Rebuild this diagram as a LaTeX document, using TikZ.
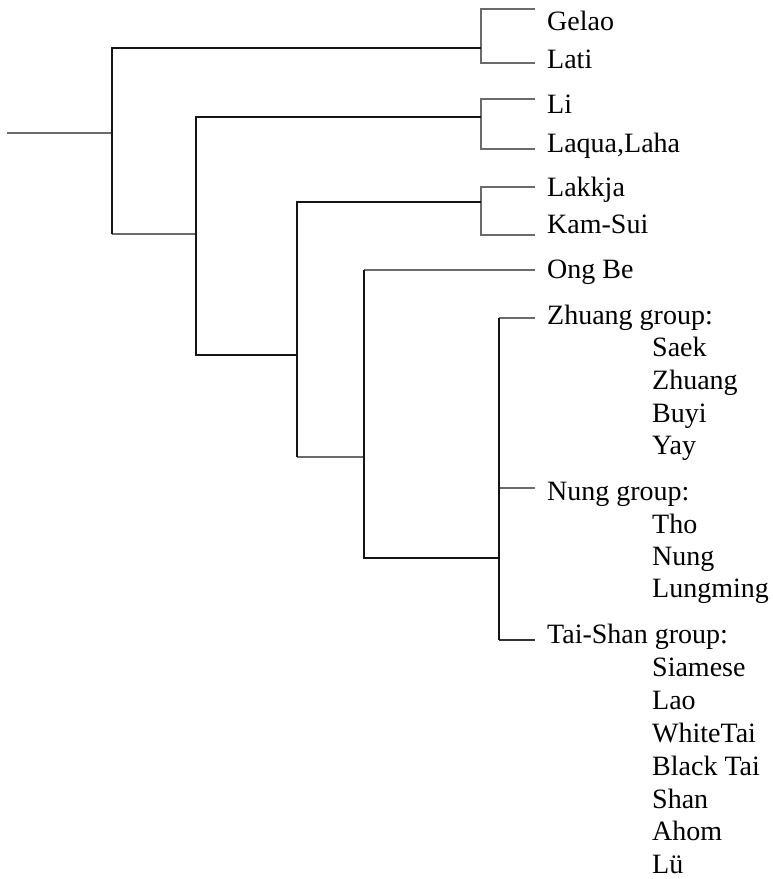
\documentclass[tikz,border=0pt]{standalone}
\usepackage{fontspec}
\setmainfont{Liberation Serif}
\begin{document}
\begin{tikzpicture}[x=1pt,y=-1pt,
  trunk/.style={draw=black!92, line width=2pt},
  twig/.style={draw=black!58, line width=1.6pt},
  lbl/.style={anchor=base west, inner sep=0pt, font=\fontsize{28}{30}\selectfont}]
\useasboundingbox (0,0) rectangle (772,879);

% tree joints
\coordinate (root) at (7,133);
\coordinate (a) at (112,133);
\coordinate (a-top) at (112,48);
\coordinate (a-bot) at (112,234);
\coordinate (b1) at (481,48);
\coordinate (c-top) at (196,117);
\coordinate (c-bot) at (196,355);
\coordinate (b2) at (481,117);
\coordinate (d-top) at (297,202);
\coordinate (d-bot) at (297,457);
\coordinate (b3) at (481,202);
\coordinate (e-top) at (364,270);
\coordinate (e-bot) at (364,558);
\coordinate (f-top) at (499,318);
\coordinate (f-mid) at (499,488);
\coordinate (f-bot) at (499,640);

% leaf tips
\coordinate (t-gelao) at (535,9);
\coordinate (t-lati) at (535,63);
\coordinate (t-li) at (535,99);
\coordinate (t-laqua) at (535,149);
\coordinate (t-lakkja) at (535,187);
\coordinate (t-kamsui) at (535,235);
\coordinate (t-ongbe) at (535,270);
\coordinate (t-zhuang) at (535,318);
\coordinate (t-nung) at (535,488);
\coordinate (t-taishan) at (535,640);

% grey branches
\draw[twig] (root) -- (a);
\draw[twig] (t-gelao) -| (b1) |- (t-lati);
\draw[twig] (t-li) -| (b2) |- (t-laqua);
\draw[twig] (t-lakkja) -| (b3) |- (t-kamsui);
\draw[twig] (a-bot) -- (c-bot |- a-bot);
\draw[twig] (d-bot) -- (e-bot |- d-bot);
\draw[twig] (e-top) -- (t-ongbe);
\draw[twig] (f-top) -- (t-zhuang);
\draw[twig] (f-mid) -- (t-nung);
\draw[twig, draw=black!80] (f-bot) -- (t-taishan);

% black branches
\draw[trunk] (b1) -- (a-top) -- (a-bot);
\draw[trunk] (b2) -- (c-top) -- (c-bot) -- (d-bot |- c-bot);
\draw[trunk] (b3) -- (d-top) -- (d-bot);
\draw[trunk] (e-top) -- (e-bot) -- (f-bot |- e-bot);
\draw[trunk] (f-top) -- (f-bot);

% labels
\node[lbl] (gelao) at (547,30) {Gelao};
\node[lbl] (lati) at (547,68) {Lati};
\node[lbl] (li) at (547,113) {Li};
\node[lbl] (laqua) at (547,152) {Laqua,Laha};
\node[lbl] (lakkja) at (547,196) {Lakkja};
\node[lbl] (kamsui) at (547,233) {Kam-Sui};
\node[lbl] (ongbe) at (547,278) {Ong Be};

\node[lbl] (zhuanggrp) at (547,324) {Zhuang group:};
\node[lbl] (saek) at (652,356) {Saek};
\node[lbl] (zhuang) at (652,389) {Zhuang};
\node[lbl] (buyi) at (652,422) {Buyi};
\node[lbl] (yay) at (652,454) {Yay};

\node[lbl] (nunggrp) at (547,500) {Nung group:};
\node[lbl] (tho) at (652,533) {Tho};
\node[lbl] (nung) at (652,565) {Nung};
\node[lbl] (lungming) at (652,597) {Lungming};

\node[lbl] (taishangrp) at (547,643) {Tai-Shan group:};
\node[lbl] (siamese) at (652,676) {Siamese};
\node[lbl] (lao) at (652,709) {Lao};
\node[lbl] (whitetai) at (652,742) {WhiteTai};
\node[lbl] (blacktai) at (652,775) {Black Tai};
\node[lbl] (shan) at (652,808) {Shan};
\node[lbl] (ahom) at (652,840) {Ahom};
\node[lbl] (lue) at (652,873) {Lü};
\end{tikzpicture}
\end{document}
